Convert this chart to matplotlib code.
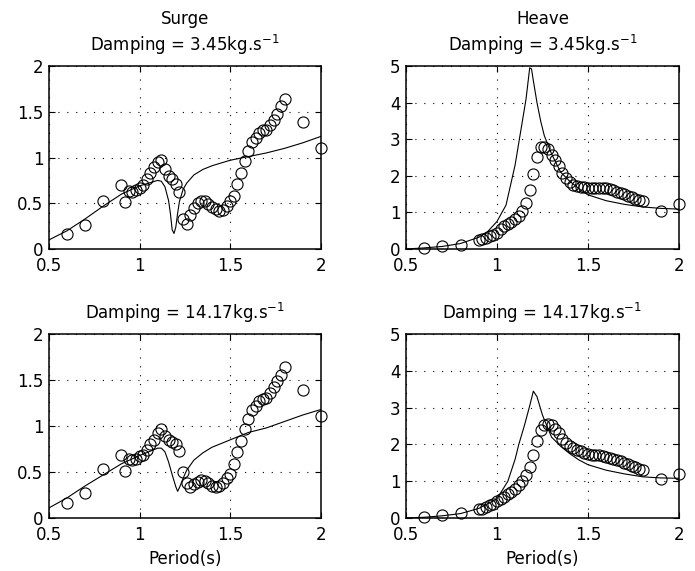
import matplotlib
matplotlib.use("Agg")
import matplotlib.pyplot as plt

# measured periods (s)
period = [0.6, 0.7, 0.8,
          0.90, 0.92, 0.94, 0.96, 0.98, 1.00, 1.02, 1.04, 1.06, 1.08,
          1.10, 1.12, 1.14, 1.16, 1.18, 1.20, 1.22, 1.24, 1.26, 1.28,
          1.30, 1.32, 1.34, 1.36, 1.38, 1.40, 1.42, 1.44, 1.46, 1.48,
          1.50, 1.52, 1.54, 1.56, 1.58, 1.60, 1.62, 1.64, 1.66, 1.68,
          1.70, 1.72, 1.74, 1.76, 1.78, 1.80,
          1.9, 2.0]

# experiment - surge, damping 3.45
surge_exp_1 = [0.16, 0.26, 0.52,
               0.70, 0.51, 0.63, 0.62, 0.65, 0.67, 0.70, 0.76, 0.83, 0.90,
               0.95, 0.97, 0.87, 0.80, 0.76, 0.71, 0.62, 0.33, 0.27, 0.37,
               0.45, 0.50, 0.53, 0.52, 0.49, 0.46, 0.44, 0.42, 0.43, 0.47,
               0.52, 0.58, 0.71, 0.83, 0.96, 1.07, 1.17, 1.21, 1.27, 1.30,
               1.30, 1.36, 1.41, 1.48, 1.56, 1.64,
               1.39, 1.10]

# experiment - surge, damping 14.17
surge_exp_2 = [0.16, 0.27, 0.53,
               0.69, 0.51, 0.64, 0.63, 0.64, 0.67, 0.69, 0.74, 0.80, 0.85,
               0.93, 0.97, 0.89, 0.85, 0.83, 0.80, 0.73, 0.50, 0.38, 0.34,
               0.37, 0.39, 0.41, 0.40, 0.38, 0.35, 0.34, 0.35, 0.38, 0.43,
               0.48, 0.59, 0.72, 0.84, 0.97, 1.08, 1.17, 1.22, 1.27, 1.30,
               1.31, 1.36, 1.42, 1.49, 1.56, 1.64,
               1.39, 1.11]

# experiment - heave, damping 3.45
heave_exp_1 = [0.03, 0.07, 0.12,
               0.25, 0.27, 0.30, 0.35, 0.38, 0.45, 0.56, 0.62, 0.67, 0.75,
               0.82, 0.91, 1.03, 1.27, 1.60, 2.05, 2.52, 2.78, 2.80, 2.74,
               2.58, 2.42, 2.26, 2.08, 1.93, 1.83, 1.76, 1.72, 1.70, 1.69,
               1.68, 1.68, 1.67, 1.68, 1.68, 1.66, 1.63, 1.60, 1.57, 1.53,
               1.50, 1.46, 1.42, 1.38, 1.34, 1.30,
               1.05, 1.22]

# experiment - heave, damping 14.17
heave_exp_2 = [0.03, 0.08, 0.14,
               0.25, 0.25, 0.30, 0.35, 0.38, 0.45, 0.52, 0.58, 0.65, 0.72,
               0.80, 0.90, 1.00, 1.17, 1.40, 1.72, 2.10, 2.40, 2.52, 2.56,
               2.52, 2.43, 2.30, 2.15, 2.05, 1.95, 1.90, 1.85, 1.82, 1.78,
               1.75, 1.72, 1.70, 1.70, 1.68, 1.66, 1.64, 1.60, 1.57, 1.54,
               1.50, 1.46, 1.42, 1.38, 1.34, 1.30,
               1.07, 1.20]

# model curves
surge_t1 = [0.5, 0.6, 0.7, 0.8, 0.9, 1.0, 1.05, 1.1, 1.12, 1.14, 1.16, 1.17,
            1.18, 1.19, 1.2, 1.21, 1.22, 1.24, 1.26, 1.3, 1.35, 1.4, 1.5,
            1.6, 1.7, 1.8, 1.9, 2.0]
surge_m1 = [0.10, 0.20, 0.33, 0.47, 0.60, 0.69, 0.72, 0.75, 0.74, 0.68, 0.53, 0.39,
            0.21, 0.17, 0.24, 0.39, 0.52, 0.65, 0.72, 0.81, 0.87, 0.91, 0.97,
            1.01, 1.05, 1.10, 1.16, 1.23]

surge_t2 = [0.5, 0.6, 0.7, 0.8, 0.9, 1.0, 1.05, 1.1, 1.12, 1.14, 1.16, 1.18,
            1.2, 1.21, 1.22, 1.24, 1.26, 1.3, 1.35, 1.4, 1.5, 1.6, 1.7, 1.8,
            1.9, 2.0]
surge_m2 = [0.11, 0.22, 0.35, 0.47, 0.59, 0.68, 0.72, 0.76, 0.76, 0.72, 0.61, 0.47,
            0.34, 0.29, 0.33, 0.43, 0.52, 0.63, 0.71, 0.77, 0.85, 0.93, 0.98, 1.05,
            1.12, 1.18]

heave_t1 = [0.5, 0.6, 0.7, 0.8, 0.9, 0.95, 1.0, 1.05, 1.1, 1.13, 1.16, 1.18,
            1.19, 1.2, 1.22, 1.24, 1.26, 1.28, 1.3, 1.35, 1.4, 1.45, 1.5, 1.6,
            1.7, 1.8, 1.9, 2.0]
heave_m1 = [0.00, 0.03, 0.07, 0.15, 0.32, 0.48, 0.75, 1.20, 2.30, 3.20, 4.10, 4.95,
            4.92, 4.60, 4.00, 3.50, 3.10, 2.85, 2.60, 2.10, 1.85, 1.65, 1.48, 1.32,
            1.22, 1.15, 1.11, 1.09]

heave_t2 = [0.5, 0.6, 0.7, 0.8, 0.9, 1.0, 1.06, 1.1, 1.12, 1.15, 1.18, 1.2,
            1.22, 1.25, 1.3, 1.35, 1.4, 1.45, 1.5, 1.6, 1.7, 1.8, 1.9, 2.0]
heave_m2 = [0.00, 0.02, 0.06, 0.12, 0.26, 0.52, 1.00, 1.60, 2.00, 2.50, 3.05, 3.45,
            3.30, 2.80, 2.20, 1.95, 1.75, 1.58, 1.45, 1.30, 1.20, 1.12, 1.09, 1.08]

x_ticks = [0.5, 1, 1.5, 2]
x_labels = ["0.5", "1", "1.5", "2"]
surge_ticks = [0, 0.5, 1, 1.5, 2]
surge_labels = ["0", "0.5", "1", "1.5", "2"]
heave_ticks = [0, 1, 2, 3, 4, 5]
heave_labels = ["0", "1", "2", "3", "4", "5"]

plt.rcParams["font.family"] = "DejaVu Sans"
plt.rcParams["font.size"] = 12
plt.rcParams["mathtext.fontset"] = "dejavusans"

fig = plt.figure(figsize=(6.95, 5.71), dpi=100)

# [left, bottom, width, height] in figure fractions
ax_sl = fig.add_axes([0.0705, 0.5639, 0.391, 0.3205])
ax_hl = fig.add_axes([0.584, 0.5639, 0.393, 0.3205])
ax_s2 = fig.add_axes([0.0705, 0.0928, 0.391, 0.322])
ax_h2 = fig.add_axes([0.584, 0.0928, 0.393, 0.322])


def panel(ax, t_model, model, exp, ylim, yticks, ylabels, title):
    ax.plot(t_model, model, color="black", lw=0.8)
    ax.plot(period, exp, linestyle="none", marker="o", ms=8,
            mfc="none", mec="black", mew=0.8, clip_on=False)
    ax.set_xlim(0.5, 2)
    ax.set_ylim(*ylim)
    ax.set_xticks(x_ticks)
    ax.set_xticklabels(x_labels)
    ax.set_yticks(yticks)
    ax.set_yticklabels(ylabels)
    ax.tick_params(direction="in", length=4, width=0.8, top=True, right=True)
    ax.tick_params(axis="x", pad=6)
    ax.tick_params(axis="y", pad=4)
    ax.grid(True, color="black", linestyle=(0, (1, 7)), linewidth=0.8)
    for s in ax.spines.values():
        s.set_linewidth(1.1)
    ax.set_title(title, fontsize=12, pad=11, linespacing=1.25)


panel(ax_sl, surge_t1, surge_m1, surge_exp_1, (0, 2), surge_ticks, surge_labels,
      "Surge\nDamping = 3.45kg.s$^{-1}$")
panel(ax_hl, heave_t1, heave_m1, heave_exp_1, (0, 5), heave_ticks, heave_labels,
      "Heave\nDamping = 3.45kg.s$^{-1}$")
panel(ax_s2, surge_t2, surge_m2, surge_exp_2, (0, 2), surge_ticks, surge_labels,
      "Damping = 14.17kg.s$^{-1}$")
panel(ax_h2, heave_t2, heave_m2, heave_exp_2, (0, 5), heave_ticks, heave_labels,
      "Damping = 14.17kg.s$^{-1}$")

ax_s2.set_xlabel("Period(s)", fontsize=12, labelpad=4)
ax_h2.set_xlabel("Period(s)", fontsize=12, labelpad=4)

fig.savefig("out.png", dpi=100)
